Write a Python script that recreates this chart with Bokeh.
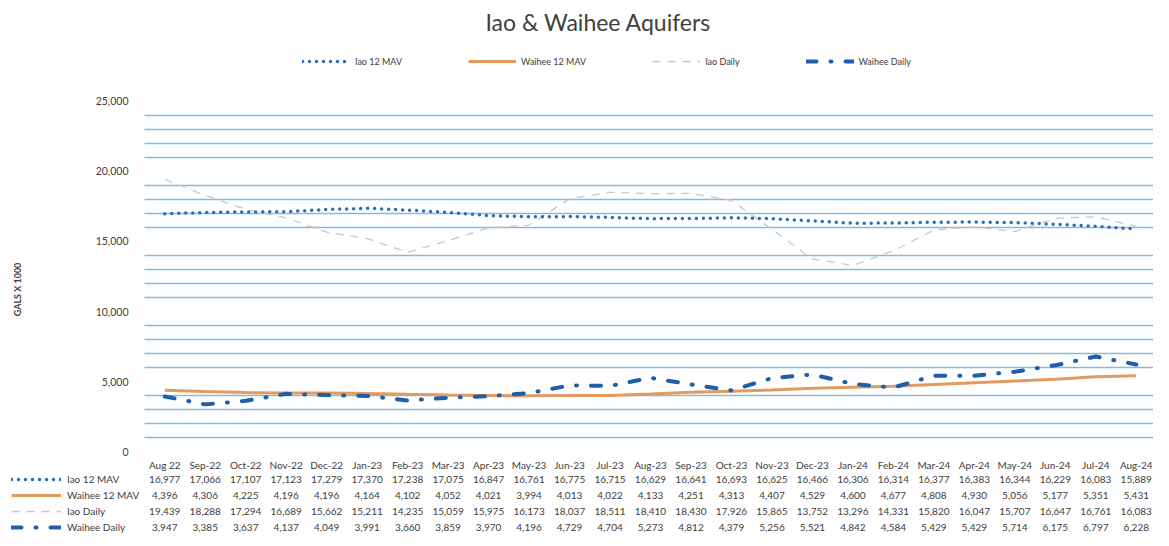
from bokeh.plotting import figure
from bokeh.models import (Range1d, FixedTicker, NumeralTickFormatter, Legend, LegendItem,
                          BoxAnnotation)
from bokeh.core.properties import value
from bokeh.embed import file_html
from bokeh.resources import INLINE

months = ["Aug 22", "Sep-22", "Oct-22", "Nov-22", "Dec-22", "Jan-23", "Feb-23", "Mar-23",
          "Apr-23", "May-23", "Jun-23", "Jul-23", "Aug-23", "Sep-23", "Oct-23", "Nov-23",
          "Dec-23", "Jan-24", "Feb-24", "Mar-24", "Apr-24", "May-24", "Jun-24", "Jul-24", "Aug-24"]
iao_mav = [16977, 17066, 17107, 17123, 17279, 17370, 17238, 17075, 16847, 16761, 16775, 16715,
           16629, 16641, 16693, 16625, 16466, 16306, 16314, 16377, 16383, 16344, 16229, 16083, 15889]
waihee_mav = [4396, 4306, 4225, 4196, 4196, 4164, 4102, 4052, 4021, 3994, 4013, 4022,
              4133, 4251, 4313, 4407, 4529, 4600, 4677, 4808, 4930, 5056, 5177, 5351, 5431]
iao_daily = [19439, 18288, 17294, 16689, 15662, 15211, 14235, 15059, 15975, 16173, 18037, 18511,
             18410, 18430, 17926, 15865, 13752, 13296, 14331, 15820, 16047, 15707, 16647, 16761, 16083]
waihee_daily = [3947, 3385, 3637, 4137, 4049, 3991, 3660, 3859, 3970, 4196, 4729, 4704,
                5273, 4812, 4379, 5256, 5521, 4842, 4584, 5429, 5429, 5714, 6175, 6797, 6228]
series_names = ["Iao 12 MAV", "Waihee 12 MAV", "Iao Daily", "Waihee Daily"]
y_ticks = [0, 5000, 10000, 15000, 20000, 25000]
grid_ticks = [v for v in range(1000, 25000, 1000) if v % 5000 != 0]

idx = list(range(len(months)))
FONT = "Lato"
TXT = "#404040"

styles = [
    dict(line_color="#2e6db4", line_width=3.5, line_dash="0 7", line_cap="round"),
    dict(line_color="#e39a5e", line_width=3),
    dict(line_color="#c8c8c8", line_width=1.3, line_dash="8 7"),
    dict(line_color="#1f5ea8", line_width=4, line_dash="10 14 1 14", line_cap="round"),
]
series = [iao_mav, waihee_mav, iao_daily, waihee_daily]

# layout (page pixels of the rendered frame, measured from the previous render)
W, H = 1153, 537
TOP = 39
ORG_X, ORG_Y = 1, 1          # where the figure's top-left lands on the page
step = 1012 / 25.0
x0 = -0.5 - (145 - ORG_X) / step
x1 = 24.5 + (ORG_X + W - 1157) / step
px_per_unit = 352 / 25000.0
frame_top_page = ORG_Y + TOP
frame_bottom_page = ORG_Y + H
y0 = -(frame_bottom_page - 452) / px_per_unit
y1 = 25000 + (100 - frame_top_page) / px_per_unit

p = figure(width=W, height=H, output_backend="svg", toolbar_location=None,
           x_range=Range1d(x0, x1), y_range=Range1d(y0, y1),
           min_border_left=0, min_border_right=0, min_border_top=TOP, min_border_bottom=0,
           outline_line_color=None)
p.extra_y_ranges = {"tbl": Range1d(start=frame_bottom_page, end=frame_top_page)}

p.title.text = "Iao & Waihee Aquifers"
p.title.text_font = FONT
p.title.text_font_size = "23px"
p.title.text_font_style = "normal"
p.title.text_color = TXT
p.title.align = "left"
p.title.offset = 485
p.title.standoff = 11

p.xaxis.visible = False
p.xgrid.visible = False
p.ygrid.ticker = FixedTicker(ticks=grid_ticks)
p.ygrid.grid_line_color = "#8fb6da"
p.ygrid.grid_line_width = 1.6
try:
    p.ygrid.cross_bounds = (-0.5, x1)
except Exception:
    p.add_layout(BoxAnnotation(left=x0, right=-0.5, fill_color="white", fill_alpha=1,
                               line_alpha=0, level="underlay"))

ya = p.yaxis[0]
ya.fixed_location = -0.5
ya.ticker = FixedTicker(ticks=y_ticks)
ya.formatter = NumeralTickFormatter(format="0,0")
ya.axis_line_color = None
ya.major_tick_line_color = None
ya.minor_tick_line_color = None
ya.major_label_text_font = FONT
ya.major_label_text_font_size = "10.5px"
ya.major_label_text_color = TXT
ya.major_label_standoff = 10
ya.axis_label = "GALS X 1000"
ya.axis_label_text_font = FONT
ya.axis_label_text_font_size = "9px"
ya.axis_label_text_font_style = "bold"
ya.axis_label_text_color = TXT
ya.axis_label_standoff = 70

draw_order = [2, 0, 1, 3]
rend = {}
for i in draw_order:
    rend[i] = p.line(idx, series[i], **styles[i])

top_leg = Legend(items=[LegendItem(label=series_names[i], renderers=[rend[i]]) for i in range(4)],
                 orientation="horizontal", location=(303 - ORG_X, frame_bottom_page - 69),
                 glyph_width=48, glyph_height=14,
                 label_standoff=5, spacing=66, padding=0, margin=0,
                 border_line_color=None, background_fill_alpha=0,
                 label_text_font=FONT, label_text_font_size="9px", label_text_color=TXT)
p.add_layout(top_leg, "center")

rows = [months] + [[f"{v:,}" for v in s] for s in series]
row_y = [465, 480, 496, 512, 528]
row_pitch = 16
tbl_leg = Legend(items=[LegendItem(label=series_names[i], renderers=[rend[i]]) for i in range(4)],
                 orientation="vertical",
                 location=(12 - ORG_X, frame_bottom_page - (row_y[-1] + row_pitch // 2)),
                 glyph_width=50, glyph_height=row_pitch, label_height=row_pitch,
                 label_standoff=6, spacing=0, padding=0, margin=0,
                 border_line_color=None, background_fill_alpha=0,
                 label_text_font=FONT, label_text_font_size="10px", label_text_color=TXT)
p.add_layout(tbl_leg, "center")

for labels, yy in zip(rows, row_y):
    p.text(x=idx, y=[yy] * len(idx), text=labels, y_range_name="tbl",
           text_align="center", text_baseline="middle", text_font=value(FONT),
           text_font_size="10px", text_color=TXT)

open("out.html", "w").write(file_html(p, INLINE))
